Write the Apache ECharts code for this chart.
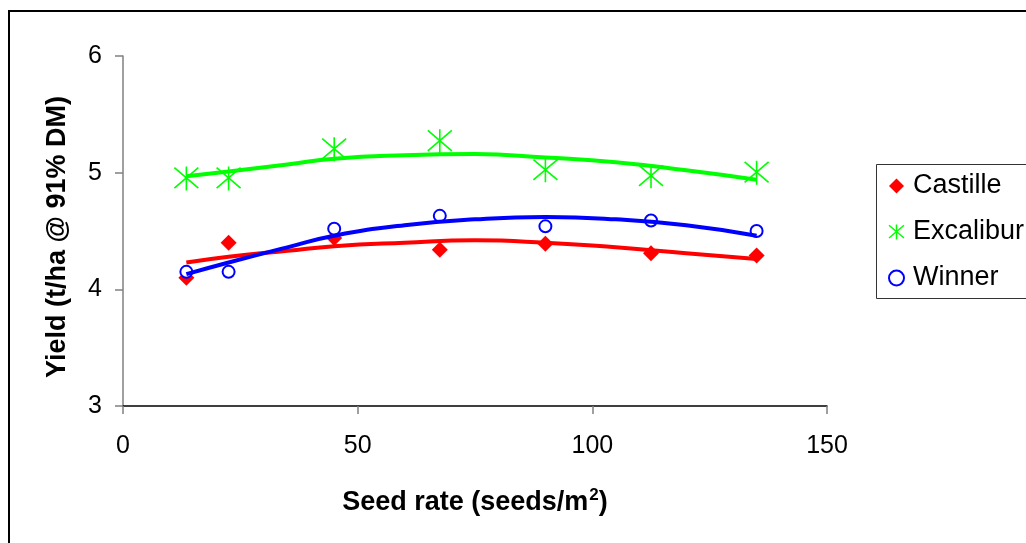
<!DOCTYPE html>
<html>
<head>
<meta charset="UTF-8">
<title>Yield vs seed rate</title>
<script src="https://cdn.jsdelivr.net/npm/echarts@6/dist/echarts.min.js"></script>
<style>
  html, body { margin: 0; padding: 0; background: #fff; }
  #chart { width: 1026px; height: 543px; }
</style>
</head>
<body>
<div id="chart"></div>
<script>
// measured points
var seedRate  = [13.5, 22.5, 45, 67.5, 90, 112.5, 135];
var castille  = [4.10, 4.40, 4.44, 4.34, 4.39, 4.31, 4.29];
var excalibur = [4.95, 4.95, 5.20, 5.27, 5.02, 4.97, 5.00];
var winner    = [4.15, 4.15, 4.52, 4.63, 4.54, 4.59, 4.50];

// trend lines
var trendX         = [13.5, 22.5, 35, 45, 60, 75, 90, 105, 120, 135];
var castilleTrend  = [4.23, 4.28, 4.33, 4.37, 4.40, 4.42, 4.40, 4.36, 4.31, 4.26];
var excaliburTrend = [4.97, 5.01, 5.07, 5.12, 5.15, 5.16, 5.13, 5.09, 5.02, 4.94];
var winnerTrend    = [4.13, 4.23, 4.36, 4.46, 4.55, 4.60, 4.62, 4.60, 4.55, 4.46];

var xTicks = [0, 50, 100, 150];
var yTicks = [3, 4, 5, 6];

var seriesNames = ['Castille', 'Excalibur', 'Winner'];
var colors = ['#ff0000', '#00ff00', '#0000ff'];
var starPath = 'path://M0,1 L20,18 M20,1 L0,18 M10,0 L10,20';

function pairs(xs, ys) {
  var out = [];
  for (var i = 0; i < xs.length; i++) out.push([xs[i], ys[i]]);
  return out;
}

var font = 'Liberation Sans, Arial, sans-serif';
var chart = echarts.init(document.getElementById('chart'));

chart.setOption({
  animation: false,
  backgroundColor: '#fff',
  textStyle: { fontFamily: font },
  grid: { left: 123, top: 56, right: 199, bottom: 137 },
  xAxis: {
    type: 'value',
    min: xTicks[0], max: xTicks[xTicks.length - 1], interval: 50,
    name: 'Seed rate (seeds/m{sup|2})',
    nameLocation: 'middle', nameGap: 81,
    nameTextStyle: {
      fontSize: 27, fontWeight: 'bold', color: '#000', fontFamily: font,
      rich: { sup: { fontSize: 17, fontWeight: 'bold', color: '#000', padding: [0, 0, 14, 1] } }
    },
    axisLine: { lineStyle: { color: '#000', width: 1.5 } },
    axisTick: { length: 8, lineStyle: { color: '#808080', width: 1.5 } },
    axisLabel: { fontSize: 25, color: '#000', margin: 28 },
    splitLine: { show: false }
  },
  yAxis: {
    type: 'value',
    min: yTicks[0], max: yTicks[yTicks.length - 1], interval: 1,
    name: 'Yield (t/ha @ 91% DM)',
    nameLocation: 'middle', nameGap: 52,
    nameTextStyle: { fontSize: 27, fontWeight: 'bold', color: '#000', fontFamily: font, padding: [0, 12, 0, 0] },
    axisLine: { show: true, lineStyle: { color: '#808080', width: 1.5 } },
    axisTick: { show: true, length: 8, lineStyle: { color: '#808080', width: 1.5 } },
    axisLabel: { fontSize: 25, color: '#000', margin: 21 },
    splitLine: { show: false }
  },
  legend: {
    orient: 'vertical',
    left: 888, top: 171,
    padding: 0,
    itemGap: 16,
    itemWidth: 15, itemHeight: 15,
    textStyle: { fontSize: 27, color: '#000', lineHeight: 30, padding: [0, 0, 0, 4] },
    data: [
      { name: 'Castille' },
      { name: 'Excalibur', itemStyle: { color: 'transparent', borderColor: colors[1], borderWidth: 1.5 } },
      { name: 'Winner', itemStyle: { borderWidth: 1.5 } }
    ]
  },
  graphic: [
    { type: 'rect', shape: { x: 9, y: 11, width: 1100, height: 600 },
      style: { fill: 'none', stroke: '#000', lineWidth: 2 }, silent: true, z: -10 },
    { type: 'rect', shape: { x: 876.5, y: 164.5, width: 300, height: 134 },
      style: { fill: 'none', stroke: '#333', lineWidth: 1 }, silent: true }
  ],
  series: [
    { name: seriesNames[0], type: 'scatter', data: pairs(seedRate, castille),
      symbol: 'diamond', symbolSize: 16, itemStyle: { color: colors[0], opacity: 1 }, z: 2 },
    { name: seriesNames[1], type: 'scatter', data: pairs(seedRate, excalibur),
      symbol: starPath, symbolSize: 24,
      itemStyle: { color: 'transparent', borderColor: colors[1], borderWidth: 1.6, opacity: 1 }, z: 2 },
    { name: seriesNames[2], type: 'scatter', data: pairs(seedRate, winner),
      symbol: 'emptyCircle', symbolSize: 12,
      itemStyle: { color: colors[2], borderWidth: 1.6, opacity: 1 }, z: 2 },
    { name: 'Castille trend', type: 'line', data: pairs(trendX, castilleTrend), smooth: true,
      showSymbol: false, lineStyle: { color: colors[0], width: 4 }, z: 3 },
    { name: 'Excalibur trend', type: 'line', data: pairs(trendX, excaliburTrend), smooth: true,
      showSymbol: false, lineStyle: { color: colors[1], width: 4 }, z: 3 },
    { name: 'Winner trend', type: 'line', data: pairs(trendX, winnerTrend), smooth: true,
      showSymbol: false, lineStyle: { color: colors[2], width: 4 }, z: 4 }
  ]
});
</script>
</body>
</html>
